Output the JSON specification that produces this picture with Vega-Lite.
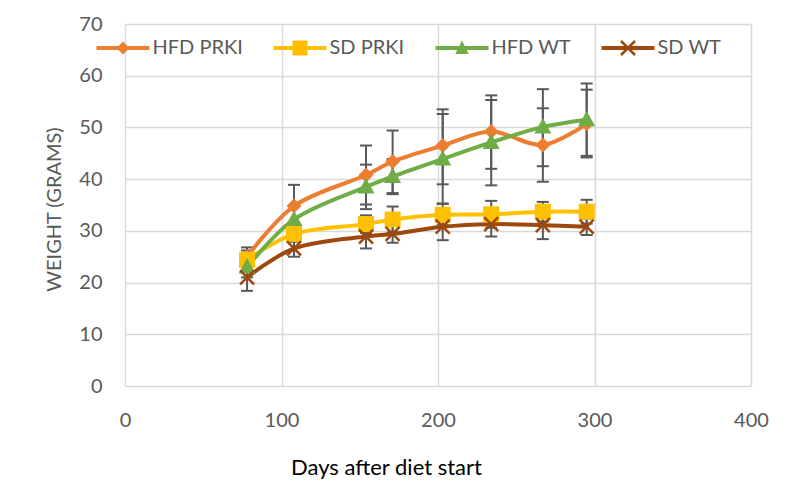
{
  "$schema": "https://vega.github.io/schema/vega-lite/v6.json",
  "width": 626,
  "height": 362,
  "autosize": {"type": "none"},
  "padding": {"left": 125, "top": 24, "right": 39, "bottom": 96},
  "background": "white",
  "config": {
    "view": {"stroke": null},
    "font": "Lato",
    "axisX": {
      "domain": false, "ticks": false, "tickSize": 0,
      "grid": true, "gridColor": "#d9d9d9", "gridWidth": 1.5,
      "labelFont": "Lato", "labelFontSize": 20, "labelColor": "#595959",
      "labelPadding": 24, "labelFlush": false, "labelOverlap": false,
      "titleFont": "Lato", "titleFontSize": 22, "titleFontWeight": "normal", "titleColor": "#000000",
      "titleX": 261, "titleY": 81, "titleAlign": "center", "titleBaseline": "middle", "titleAnchor": null
    },
    "axisY": {
      "domain": false, "ticks": false, "tickSize": 0,
      "grid": true, "gridColor": "#d9d9d9", "gridWidth": 1.5,
      "labelFont": "Lato", "labelFontSize": 20, "labelColor": "#595959",
      "labelPadding": 23, "labelFlush": false, "labelOverlap": false,
      "titleFont": "Lato", "titleFontSize": 20, "titleFontWeight": "normal", "titleColor": "#595959",
      "titleX": -71, "titleY": 185, "titleAlign": "center", "titleBaseline": "middle", "titleAnchor": null
    }
  },
  "data": {
    "values": [
      {"series": "HFD PRKI", "day": 78, "weight": 25.0, "lo": 23.8, "hi": 26.2},
      {"series": "HFD PRKI", "day": 108, "weight": 34.8, "lo": 31.1, "hi": 38.9},
      {"series": "HFD PRKI", "day": 154, "weight": 40.8, "lo": 35.1, "hi": 46.5},
      {"series": "HFD PRKI", "day": 171, "weight": 43.4, "lo": 37.3, "hi": 49.4},
      {"series": "HFD PRKI", "day": 203, "weight": 46.5, "lo": 39.0, "hi": 53.5},
      {"series": "HFD PRKI", "day": 234, "weight": 49.2, "lo": 42.0, "hi": 56.2},
      {"series": "HFD PRKI", "day": 267, "weight": 46.6, "lo": 39.5, "hi": 53.7},
      {"series": "HFD PRKI", "day": 295, "weight": 50.7, "lo": 44.2, "hi": 57.3},
      {"series": "SD PRKI", "day": 78, "weight": 24.4, "lo": 22.4, "hi": 26.8},
      {"series": "SD PRKI", "day": 108, "weight": 29.4, "lo": 27.9, "hi": 30.9},
      {"series": "SD PRKI", "day": 154, "weight": 31.3, "lo": 29.6, "hi": 33.0},
      {"series": "SD PRKI", "day": 171, "weight": 32.2, "lo": 29.7, "hi": 34.7},
      {"series": "SD PRKI", "day": 203, "weight": 33.1, "lo": 31.1, "hi": 35.2},
      {"series": "SD PRKI", "day": 234, "weight": 33.2, "lo": 30.6, "hi": 35.8},
      {"series": "SD PRKI", "day": 267, "weight": 33.7, "lo": 31.8, "hi": 35.6},
      {"series": "SD PRKI", "day": 295, "weight": 33.7, "lo": 31.4, "hi": 36.0},
      {"series": "HFD WT", "day": 78, "weight": 23.0, "lo": 21.0, "hi": 25.0},
      {"series": "HFD WT", "day": 108, "weight": 32.2, "lo": 29.5, "hi": 34.9},
      {"series": "HFD WT", "day": 154, "weight": 38.5, "lo": 34.2, "hi": 42.8},
      {"series": "HFD WT", "day": 171, "weight": 40.5, "lo": 37.1, "hi": 43.9},
      {"series": "HFD WT", "day": 203, "weight": 43.9, "lo": 35.3, "hi": 52.6},
      {"series": "HFD WT", "day": 234, "weight": 47.1, "lo": 38.8, "hi": 55.3},
      {"series": "HFD WT", "day": 267, "weight": 50.1, "lo": 42.5, "hi": 57.4},
      {"series": "HFD WT", "day": 295, "weight": 51.5, "lo": 44.5, "hi": 58.5},
      {"series": "SD WT", "day": 78, "weight": 21.0, "lo": 18.4, "hi": 23.6},
      {"series": "SD WT", "day": 108, "weight": 26.6, "lo": 25.0, "hi": 28.2},
      {"series": "SD WT", "day": 154, "weight": 28.9, "lo": 26.6, "hi": 31.2},
      {"series": "SD WT", "day": 171, "weight": 29.4, "lo": 27.7, "hi": 31.1},
      {"series": "SD WT", "day": 203, "weight": 30.8, "lo": 28.2, "hi": 33.4},
      {"series": "SD WT", "day": 234, "weight": 31.3, "lo": 28.9, "hi": 33.7},
      {"series": "SD WT", "day": 267, "weight": 31.1, "lo": 28.4, "hi": 33.8},
      {"series": "SD WT", "day": 295, "weight": 30.8, "lo": 29.2, "hi": 32.4}
    ]
  },
  "layer": [
    {
      "mark": {"type": "rule", "color": "#595959", "strokeWidth": 2},
      "encoding": {
        "x": {"field": "day", "type": "quantitative", "scale": {"domain": [0, 400], "nice": false}, "title": "Days after diet start", "axis": {"values": [0, 100, 200, 300, 400]}},
        "y": {"field": "lo", "type": "quantitative", "scale": {"domain": [0, 70], "nice": false}, "title": "WEIGHT (GRAMS)", "axis": {"values": [0, 10, 20, 30, 40, 50, 60, 70]}},
        "y2": {"field": "hi"}
      }
    },
    {
      "mark": {"type": "tick", "orient": "horizontal", "color": "#595959", "thickness": 2, "size": 12, "opacity": 1},
      "encoding": {
        "x": {"field": "day", "type": "quantitative", "title": "Days after diet start"},
        "y": {"field": "lo", "type": "quantitative", "title": "WEIGHT (GRAMS)"}
      }
    },
    {
      "mark": {"type": "tick", "orient": "horizontal", "color": "#595959", "thickness": 2, "size": 12, "opacity": 1},
      "encoding": {
        "x": {"field": "day", "type": "quantitative", "title": "Days after diet start"},
        "y": {"field": "hi", "type": "quantitative", "title": "WEIGHT (GRAMS)"}
      }
    },
    {
      "transform": [{"filter": {"field": "series", "equal": "HFD PRKI"}}],
      "mark": {"type": "line", "interpolate": "catmull-rom", "strokeWidth": 4, "strokeCap": "round", "color": "#ED7D31"},
      "encoding": {
        "x": {"field": "day", "type": "quantitative", "title": "Days after diet start"},
        "y": {"field": "weight", "type": "quantitative", "title": "WEIGHT (GRAMS)"}
      }
    },
    {
      "transform": [{"filter": {"field": "series", "equal": "SD PRKI"}}],
      "mark": {"type": "line", "interpolate": "catmull-rom", "strokeWidth": 4, "strokeCap": "round", "color": "#FFC000"},
      "encoding": {
        "x": {"field": "day", "type": "quantitative", "title": "Days after diet start"},
        "y": {"field": "weight", "type": "quantitative", "title": "WEIGHT (GRAMS)"}
      }
    },
    {
      "transform": [{"filter": {"field": "series", "equal": "HFD WT"}}],
      "mark": {"type": "line", "interpolate": "catmull-rom", "strokeWidth": 4, "strokeCap": "round", "color": "#70AD47"},
      "encoding": {
        "x": {"field": "day", "type": "quantitative", "title": "Days after diet start"},
        "y": {"field": "weight", "type": "quantitative", "title": "WEIGHT (GRAMS)"}
      }
    },
    {
      "transform": [{"filter": {"field": "series", "equal": "SD WT"}}],
      "mark": {"type": "line", "interpolate": "catmull-rom", "strokeWidth": 4, "strokeCap": "round", "color": "#9E480E"},
      "encoding": {
        "x": {"field": "day", "type": "quantitative", "title": "Days after diet start"},
        "y": {"field": "weight", "type": "quantitative", "title": "WEIGHT (GRAMS)"}
      }
    },
    {
      "transform": [{"filter": {"field": "series", "equal": "HFD PRKI"}}],
      "mark": {"type": "point", "filled": true, "opacity": 1, "size": 4, "strokeWidth": 0, "color": "#ED7D31", "shape": "M0,-7.5L7.5,0L0,7.5L-7.5,0Z"},
      "encoding": {
        "x": {"field": "day", "type": "quantitative", "title": "Days after diet start"},
        "y": {"field": "weight", "type": "quantitative", "title": "WEIGHT (GRAMS)"}
      }
    },
    {
      "transform": [{"filter": {"field": "series", "equal": "SD PRKI"}}],
      "mark": {"type": "point", "filled": true, "opacity": 1, "size": 4, "strokeWidth": 0, "color": "#FFC000", "shape": "M-8,-8L8,-8L8,8L-8,8Z"},
      "encoding": {
        "x": {"field": "day", "type": "quantitative", "title": "Days after diet start"},
        "y": {"field": "weight", "type": "quantitative", "title": "WEIGHT (GRAMS)"}
      }
    },
    {
      "transform": [{"filter": {"field": "series", "equal": "HFD WT"}}],
      "mark": {"type": "point", "filled": true, "opacity": 1, "size": 4, "strokeWidth": 0, "color": "#70AD47", "shape": "M0,-9L8.5,6.5L-8.5,6.5Z"},
      "encoding": {
        "x": {"field": "day", "type": "quantitative", "title": "Days after diet start"},
        "y": {"field": "weight", "type": "quantitative", "title": "WEIGHT (GRAMS)"}
      }
    },
    {
      "transform": [{"filter": {"field": "series", "equal": "SD WT"}}],
      "mark": {"type": "point", "filled": true, "opacity": 1, "size": 4, "strokeWidth": 0, "color": "#9E480E", "shape": "M-6.12,-7.88L7.88,6.12L6.12,7.88L-7.88,-6.12Z M7.88,-6.12L-6.12,7.88L-7.88,6.12L6.12,-7.88Z"},
      "encoding": {
        "x": {"field": "day", "type": "quantitative", "title": "Days after diet start"},
        "y": {"field": "weight", "type": "quantitative", "title": "WEIGHT (GRAMS)"}
      }
    },
    {
      "mark": {"type": "point", "filled": true, "opacity": 0, "size": 4, "strokeWidth": 0},
      "encoding": {
        "x": {"field": "day", "type": "quantitative", "title": "Days after diet start"},
        "y": {"field": "weight", "type": "quantitative", "title": "WEIGHT (GRAMS)"},
        "color": {
          "field": "series", "type": "nominal",
          "scale": {"domain": ["HFD PRKI", "SD PRKI", "HFD WT", "SD WT"], "range": ["#ED7D31", "#FFC000", "#70AD47", "#9E480E"]},
          "legend": {
            "orient": "none", "legendX": -12, "legendY": 14, "direction": "horizontal", "columns": 4,
            "title": null, "padding": 0, "columnPadding": 30,
            "labelFont": "Lato", "labelFontSize": 20, "labelColor": "#595959", "labelOffset": 19.5, "labelLimit": 0,
            "symbolSize": 4, "symbolOpacity": 1, "symbolStrokeWidth": 0, "symbolFillColor": "#888888"
          }
        },
        "shape": {
          "field": "series", "type": "nominal",
          "scale": {
            "domain": ["HFD PRKI", "SD PRKI", "HFD WT", "SD WT"],
            "range": [
              "M-26.5,-2L26.5,-2L26.5,2L-26.5,2Z M0,-6.5L6.5,0L0,6.5L-6.5,0Z",
              "M-26.5,-2L26.5,-2L26.5,2L-26.5,2Z M-7.5,-7.5L7.5,-7.5L7.5,7.5L-7.5,7.5Z",
              "M-26.5,-2L26.5,-2L26.5,2L-26.5,2Z M0,-7.5L6.7,6L-6.7,6Z",
              "M-26.5,-2L26.5,-2L26.5,2L-26.5,2Z M-6.12,-7.88L7.88,6.12L6.12,7.88L-7.88,-6.12Z M7.88,-6.12L-6.12,7.88L-7.88,6.12L6.12,-7.88Z"
            ]
          },
          "legend": {
            "orient": "none", "legendX": -12, "legendY": 14, "direction": "horizontal", "columns": 4,
            "title": null, "padding": 0, "columnPadding": 30,
            "labelFont": "Lato", "labelFontSize": 20, "labelColor": "#595959", "labelOffset": 19.5, "labelLimit": 0,
            "symbolSize": 4, "symbolOpacity": 1, "symbolStrokeWidth": 0, "symbolFillColor": "#888888"
          }
        }
      }
    }
  ]
}
